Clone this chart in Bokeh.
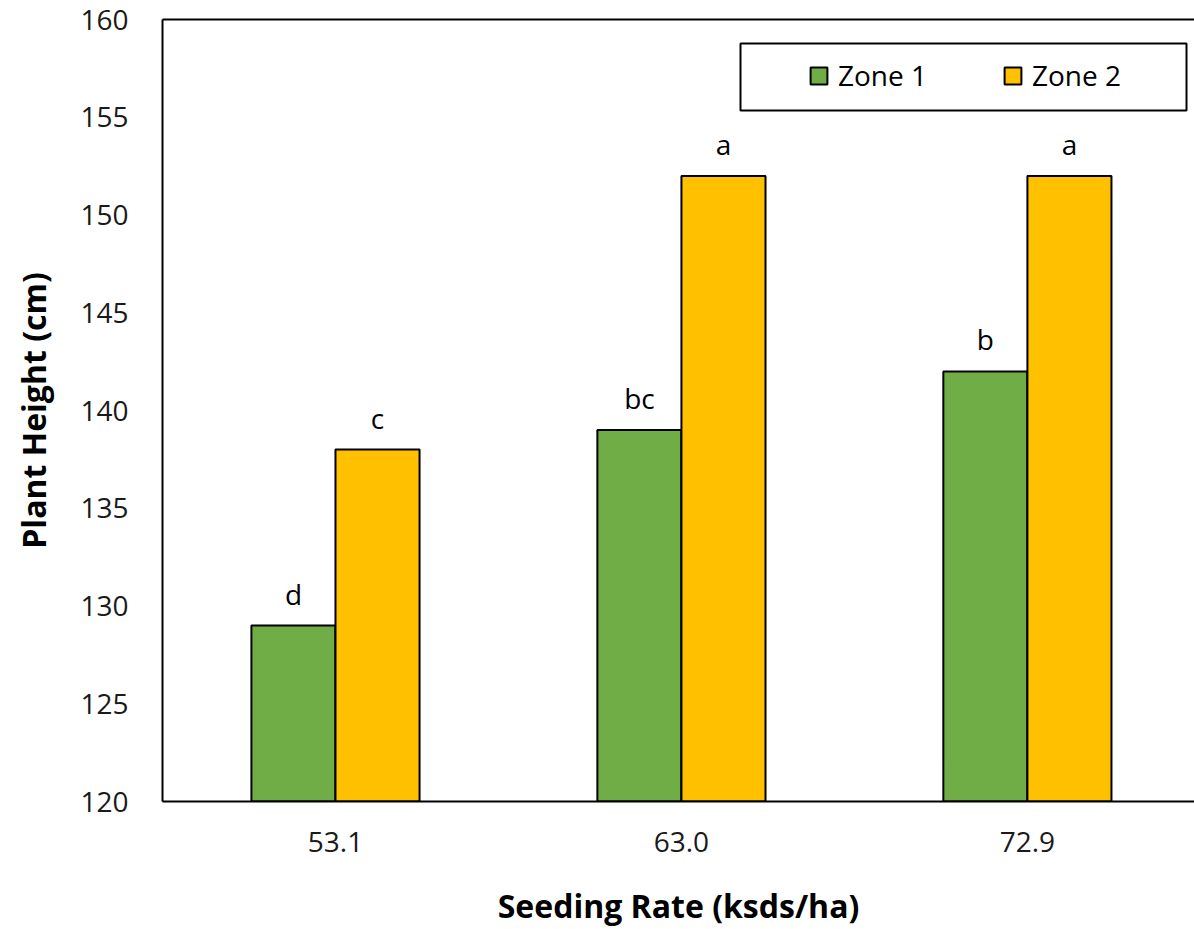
from bokeh.plotting import figure
from bokeh.models import (ColumnDataSource, Range1d, FixedTicker, LinearAxis,
                          Legend, LegendItem, BoxAnnotation)
from bokeh.core.properties import value
from bokeh.transform import dodge
from bokeh.embed import file_html
from bokeh.resources import INLINE

# ---- data ----
rates = ["53.1", "63.0", "72.9"]
zone1 = [129, 139, 142]
zone2 = [138, 152, 152]
zone1_letters = ["d", "bc", "b"]
zone2_letters = ["c", "a", "a"]
y_ticks = [120, 125, 130, 135, 140, 145, 150, 155, 160]

FONT = "Open Sans"
GREEN = "#70AD47"
YELLOW = "#FFC000"

xs = [i + 0.5 for i in range(len(rates))]
src = ColumnDataSource(dict(x=xs, z1=zone1, z2=zone2,
                            l1=zone1_letters, l2=zone2_letters))

p = figure(width=1194, height=929, output_backend="svg", toolbar_location=None,
           x_range=Range1d(0, 2.983), y_range=Range1d(y_ticks[0], y_ticks[-1]),
           min_border_left=162, min_border_right=0, min_border_top=19,
           min_border_bottom=128)
p.outline_line_color = None
p.grid.visible = False
p.background_fill_color = "white"

bw = 0.243
r1 = p.vbar(x=dodge('x', -bw / 2), top='z1', bottom=y_ticks[0], width=bw,
            source=src, fill_color=GREEN, line_color="black", line_width=2)
r2 = p.vbar(x=dodge('x', bw / 2), top='z2', bottom=y_ticks[0], width=bw,
            source=src, fill_color=YELLOW, line_color="black", line_width=2)

p.text(x=dodge('x', -bw / 2), y='z1', text='l1', source=src, y_offset=-32,
       text_align="center", text_baseline="alphabetic",
       text_font=value(FONT), text_font_size="28px", text_color="black")
p.text(x=dodge('x', bw / 2), y='z2', text='l2', source=src, y_offset=-32,
       text_align="center", text_baseline="alphabetic",
       text_font=value(FONT), text_font_size="28px", text_color="black")

# axes
p.xaxis.ticker = FixedTicker(ticks=xs)
p.xaxis.major_label_overrides = {x: r for x, r in zip(xs, rates)}
p.xaxis.axis_label = "Seeding Rate (ksds/ha)"
p.yaxis.ticker = FixedTicker(ticks=y_ticks)
p.yaxis.axis_label = "Plant Height (cm)"
for ax in (p.xaxis[0], p.yaxis[0]):
    ax.axis_line_width = 2
    ax.axis_line_color = "black"
    ax.major_tick_line_color = None
    ax.minor_tick_line_color = None
    ax.major_label_text_font = FONT
    ax.major_label_text_font_size = "28px"
    ax.major_label_text_color = "#1a1a1a"
    ax.axis_label_text_font = FONT
    ax.axis_label_text_font_size = "32px"
    ax.axis_label_text_font_style = "bold"
    ax.axis_label_text_color = "black"
    ax.axis_label_text_line_height = 1.0
p.xaxis.major_label_standoff = 24
p.xaxis.axis_label_standoff = 29
p.yaxis.major_label_standoff = 28
p.yaxis.axis_label_standoff = 22

top_axis = LinearAxis(ticker=FixedTicker(ticks=[]), axis_line_width=2,
                      axis_line_color="black", major_tick_line_color=None,
                      minor_tick_line_color=None,
                      major_label_text_font_size="0px", major_label_standoff=0)
p.add_layout(top_axis, "above")

# legend frame + legend
p.add_layout(BoxAnnotation(left=578, right=1024, bottom=691, top=758,
                           left_units="screen", right_units="screen",
                           top_units="screen", bottom_units="screen",
                           fill_alpha=0, line_color="black", line_width=2,
                           line_alpha=1))
legend = Legend(items=[LegendItem(label="Zone 1", renderers=[r1]),
                       LegendItem(label="Zone 2", renderers=[r2])],
                orientation="horizontal", location=(646, 707), padding=0,
                margin=0, spacing=70, label_standoff=9, glyph_width=21,
                glyph_height=21, label_width=94, label_text_font=FONT,
                label_text_font_size="28px", label_text_color="black",
                border_line_alpha=0, background_fill_alpha=0)
p.add_layout(legend)

open("out.html", "w").write(file_html(p, INLINE))
